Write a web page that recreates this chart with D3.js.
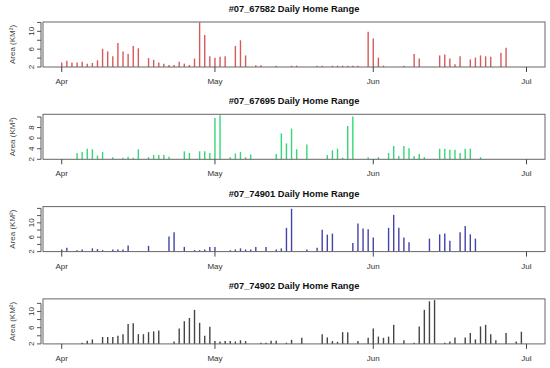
<!DOCTYPE html>
<html>
<head>
<meta charset="utf-8">
<script src="https://cdn.jsdelivr.net/npm/d3@7"></script>
<style>
  body { margin: 0; background: #fff; }
  svg { font-family: "Liberation Sans", Arial, sans-serif; }
</style>
</head>
<body>
<svg id="chart" width="550" height="368"></svg>
<script>
// daily home range of four animals, days counted from Apr 1
const startDate = new Date(Date.UTC(2007, 3, 1))
const animals = ['#07_67582', '#07_67695', '#07_74901', '#07_74902']
const colors = ['#d65a5a', '#33d877', '#4343a8', '#454545']
const monthTicks = ['2007-04-01', '2007-05-01', '2007-06-01', '2007-07-01']
const monthLabels = ['Apr', 'May', 'Jun', 'Jul']

const days67582 = [0,1,2,3,4,5,6,7,8,9,10,11,12,13,14,15,17,18,19,20,21,22,23,24,25,26,27,28,29,30,31,32,34,35,36,38,39,42,45,46,50,51,53,54,55,56,57,58,60,61,62,63,67,69,70,74,75,76,77,78,80,81,82,83,84,86,87]
const area67582 = [3.0,3.4,3.0,3.0,3.2,2.75,2.9,3.5,6.1,5.5,4.4,7.4,5.5,4.9,6.7,6.2,4.0,3.6,3.0,2.75,2.45,2.45,3.2,2.75,2.45,3.9,12.0,9.2,4.4,4.1,4.3,4.4,6.7,8.0,4.6,2.4,2.4,2.3,2.3,2.3,2.3,2.3,2.3,2.3,2.3,2.3,2.3,2.3,9.9,8.4,4.1,2.3,2.3,4.9,3.9,4.6,4.8,3.9,2.6,4.4,3.7,4.1,4.6,4.4,4.3,5.2,6.3]

const days67695 = [3,4,5,6,7,8,10,12,13,14,15,17,18,19,20,21,24,25,27,28,29,30,31,33,34,35,36,37,42,43,44,45,46,48,52,53,54,55,56,57,60,62,64,65,66,67,68,69,70,71,74,75,76,77,78,79,80,82]
const area67695 = [3.2,3.4,4.0,3.9,2.7,3.4,2.4,2.3,2.5,2.3,3.9,2.4,2.8,2.8,2.8,2.5,3.5,3.2,3.5,3.5,3.2,9.8,10.3,2.4,3.1,3.4,2.4,2.9,3.0,6.9,5.0,7.8,3.9,4.8,2.8,3.7,4.0,2.3,8.3,10.1,2.4,2.4,3.2,4.5,2.6,4.5,4.1,2.6,3.0,2.4,4.0,4.0,3.8,3.8,3.2,4.0,4.0,2.4]

const days74901 = [0,1,3,4,6,7,8,10,11,12,13,17,21,22,24,26,27,28,29,30,33,34,35,36,37,38,40,42,43,44,45,48,50,51,52,53,57,58,59,60,61,64,65,66,67,68,72,74,75,76,78,79,80,81]
const area74901 = [2.55,3.1,2.4,2.6,2.9,2.7,2.4,2.6,2.6,2.6,3.7,3.6,6.2,7.4,3.3,2.4,2.4,2.6,3.3,3.3,2.4,2.6,2.9,2.6,2.6,3.3,3.3,2.55,2.9,8.6,13.9,2.55,3.1,8.1,6.7,7.0,4.4,9.8,8.4,8.2,5.9,8.6,12.2,8.6,5.9,4.6,5.6,6.8,7.0,5.0,7.4,9.1,6.8,5.6]

const days74902 = [4,5,6,8,9,10,11,12,13,14,15,16,17,18,19,22,23,24,25,26,27,28,29,30,31,32,33,34,35,36,39,40,41,42,44,45,47,51,52,53,54,55,56,58,60,61,62,63,64,65,67,69,70,71,72,73,75,76,77,79,80,81,82,83,84,85,87,89,90]
const area74902 = [2.3,2.8,3.1,3.7,3.7,3.7,4.0,4.4,6.9,7.1,4.4,4.4,4.9,5.1,5.3,2.6,5.8,7.6,8.4,10.4,7.2,4.0,6.2,2.7,2.6,2.7,2.7,2.6,2.9,2.7,2.3,2.3,2.8,2.8,2.3,3.0,3.5,4.4,3.6,2.7,2.5,4.9,4.9,2.7,3.5,5.8,3.8,3.5,3.8,6.7,2.9,2.3,6.3,10.4,12.5,12.8,2.3,2.6,3.6,3.6,4.7,3.1,6.3,6.7,4.4,2.9,4.7,2.6,5.0]

// y axis top of each panel, ticks and which ticks get a label
const yMax = [12.1, 10.5, 14.5, 13.1]
const yTicks = [[2,4,6,8,10,12], [2,4,6,8,10], [2,4,6,8,10,12,14], [2,4,6,8,10,12]]
const yLabels = [[2,6,10], [2,4,6,8], [2,6,10], [2,6,10]]

const allDays = [days67582, days67695, days74901, days74902]
const allAreas = [area67582, area67695, area74901, area74902]

const svg = d3.select('#chart')
const panelH = 92.3
const plotLeft = 43, plotRight = 545, plotTop = 22, plotBottom = 67

// R pads the date range by 4% each side
const pad = 91 * 0.04
const x = d3.scaleUtc()
  .domain([d3.utcHour.offset(startDate, -pad * 24), d3.utcHour.offset(new Date(Date.UTC(2007, 6, 1)), pad * 24)])
  .range([plotLeft, plotRight])

animals.forEach((name, i) => {
  const g = svg.append('g').attr('transform', 'translate(0,' + (i * panelH) + ')')
  const y = d3.scaleLinear().domain([2, yMax[i]]).range([plotBottom, plotTop])
  const data = allDays[i].map((d, j) => ({ date: d3.utcDay.offset(startDate, d), v: allAreas[i][j] }))

  g.append('text')
    .attr('x', (plotLeft + plotRight) / 2)
    .attr('y', 12)
    .attr('text-anchor', 'middle')
    .attr('font-size', 9.3)
    .attr('font-weight', 'bold')
    .attr('fill', '#111')
    .text(name + ' Daily Home Range')

  // bars (type = "h")
  g.selectAll('line.bar')
    .data(data)
    .enter().append('line')
    .attr('class', 'bar')
    .attr('x1', d => x(d.date))
    .attr('x2', d => x(d.date))
    .attr('y1', y(2))
    .attr('y2', d => y(d.v))
    .attr('stroke', colors[i])
    .attr('stroke-width', 1.4)

  // box
  g.append('rect')
    .attr('x', plotLeft).attr('y', plotTop)
    .attr('width', plotRight - plotLeft).attr('height', plotBottom - plotTop)
    .attr('fill', 'none')
    .attr('stroke', '#666')
    .attr('stroke-width', 1)

  // y axis
  const ya = g.append('g').attr('transform', 'translate(' + (plotLeft - 2) + ',0)')
  ya.append('line')
    .attr('x1', 0).attr('x2', 0)
    .attr('y1', y(2)).attr('y2', y(d3.max(yTicks[i])))
    .attr('stroke', '#555')
  ya.selectAll('line.tick')
    .data(yTicks[i])
    .enter().append('line')
    .attr('class', 'tick')
    .attr('x1', -4).attr('x2', 0)
    .attr('y1', d => y(d)).attr('y2', d => y(d))
    .attr('stroke', '#555')
  ya.selectAll('text')
    .data(yLabels[i])
    .enter().append('text')
    .attr('transform', d => 'translate(-7.5,' + y(d) + ') rotate(-90)')
    .attr('text-anchor', 'middle')
    .attr('font-size', 8)
    .attr('fill', '#333')
    .text(d => d)

  g.append('text')
    .attr('transform', 'translate(15,' + ((plotTop + plotBottom) / 2) + ') rotate(-90)')
    .attr('text-anchor', 'middle')
    .attr('font-size', 8)
    .attr('fill', '#444')
    .text('Area (KM²)')

  // x axis
  const dates = monthTicks.map(s => new Date(s + 'T00:00:00Z'))
  g.selectAll('line.xtick')
    .data(dates)
    .enter().append('line')
    .attr('class', 'xtick')
    .attr('x1', d => x(d)).attr('x2', d => x(d))
    .attr('y1', plotBottom).attr('y2', plotBottom + 5)
    .attr('stroke', '#444')
  g.selectAll('text.xlab')
    .data(dates)
    .enter().append('text')
    .attr('class', 'xlab')
    .attr('x', d => x(d))
    .attr('y', plotBottom + 17)
    .attr('text-anchor', 'middle')
    .attr('font-size', 8)
    .attr('fill', '#333')
    .text((d, k) => monthLabels[k])
})
</script>
</body>
</html>
